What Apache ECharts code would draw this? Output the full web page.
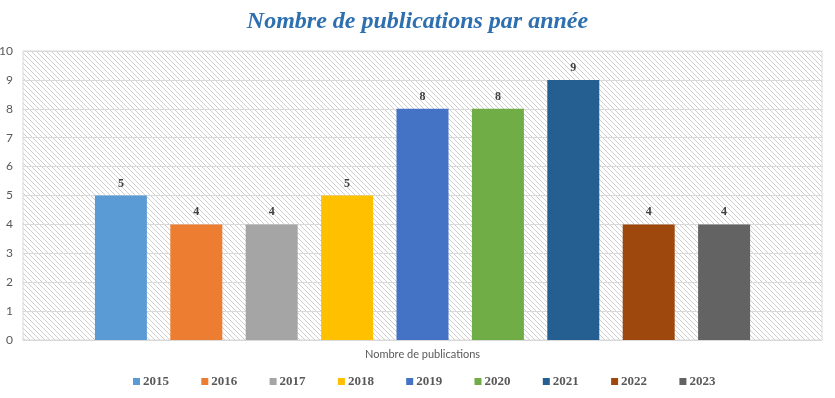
<!DOCTYPE html>
<html>
<head>
<meta charset="utf-8">
<script src="https://cdn.jsdelivr.net/npm/echarts@6/dist/echarts.min.js"></script>
<style>
  html, body { margin: 0; padding: 0; background: #fff; }
  #chart { width: 835px; height: 398px; }
</style>
</head>
<body>
<div id="chart"></div>
<script>
// données
const years = ["2015", "2016", "2017", "2018", "2019", "2020", "2021", "2022", "2023"];
const counts = [5, 4, 4, 5, 8, 8, 9, 4, 4];
const category = ["Nombre de publications"];
const colors = ["#5B9BD5", "#ED7D31", "#A5A5A5", "#FFC000", "#4472C4", "#70AD47", "#255E91", "#9E480E", "#636363"];

// motif hachuré du fond
const hatch = document.createElement("canvas");
hatch.width = 5;
hatch.height = 5;
const ctx = hatch.getContext("2d");
ctx.fillStyle = "#cfcfcf";
for (let i = 0; i < 5; i++) ctx.fillRect(i, i, 1, 1);

const chart = echarts.init(document.getElementById("chart"));

const series = years.map((y, i) => ({
  name: y,
  type: "bar",
  data: [counts[i]],
  barWidth: 52,
  barGap: "45%",
  itemStyle: { color: colors[i] },
  label: {
    show: true,
    position: "top",
    distance: 6,
    color: "#404040",
    fontFamily: "Liberation Serif",
    fontWeight: "bold",
    fontSize: 12
  }
}));

chart.setOption({
  animation: false,
  title: {
    text: "Nombre de publications par année",
    left: "center",
    top: 5,
    textStyle: {
      fontFamily: "Liberation Serif",
      fontStyle: "italic",
      fontWeight: "bold",
      fontSize: 24,
      color: "#2E6FB0"
    }
  },
  legend: {
    bottom: 5,
    left: 128,
    itemWidth: 7,
    itemHeight: 7,
    itemGap: 32.3,
    icon: "rect",
    textStyle: {
      fontFamily: "Liberation Serif",
      fontWeight: "bold",
      fontSize: 13,
      color: "#595959",
      padding: [0, 0, 0, -2]
    },
    data: years
  },
  grid: {
    left: 23,
    right: 13,
    top: 51,
    bottom: 58,
    outerBoundsMode: "none",
    containLabel: false,
    show: true,
    backgroundColor: { image: hatch, repeat: "repeat" },
    borderColor: "#d9d9d9",
    borderWidth: 1
  },
  xAxis: {
    type: "category",
    data: category,
    axisLine: { lineStyle: { color: "#d9d9d9" } },
    axisTick: { show: false },
    axisLabel: {
      color: "#595959",
      fontFamily: "Lato",
      fontSize: 11,
      margin: 9
    }
  },
  yAxis: {
    type: "value",
    min: 0,
    max: 10,
    interval: 1,
    axisLine: { show: false },
    axisTick: { show: false },
    splitLine: { lineStyle: { color: "#d9d9d9" } },
    axisLabel: {
      color: "#595959",
      fontFamily: "Lato",
      fontSize: 12,
      margin: 10
    }
  },
  series: series
});
</script>
</body>
</html>
